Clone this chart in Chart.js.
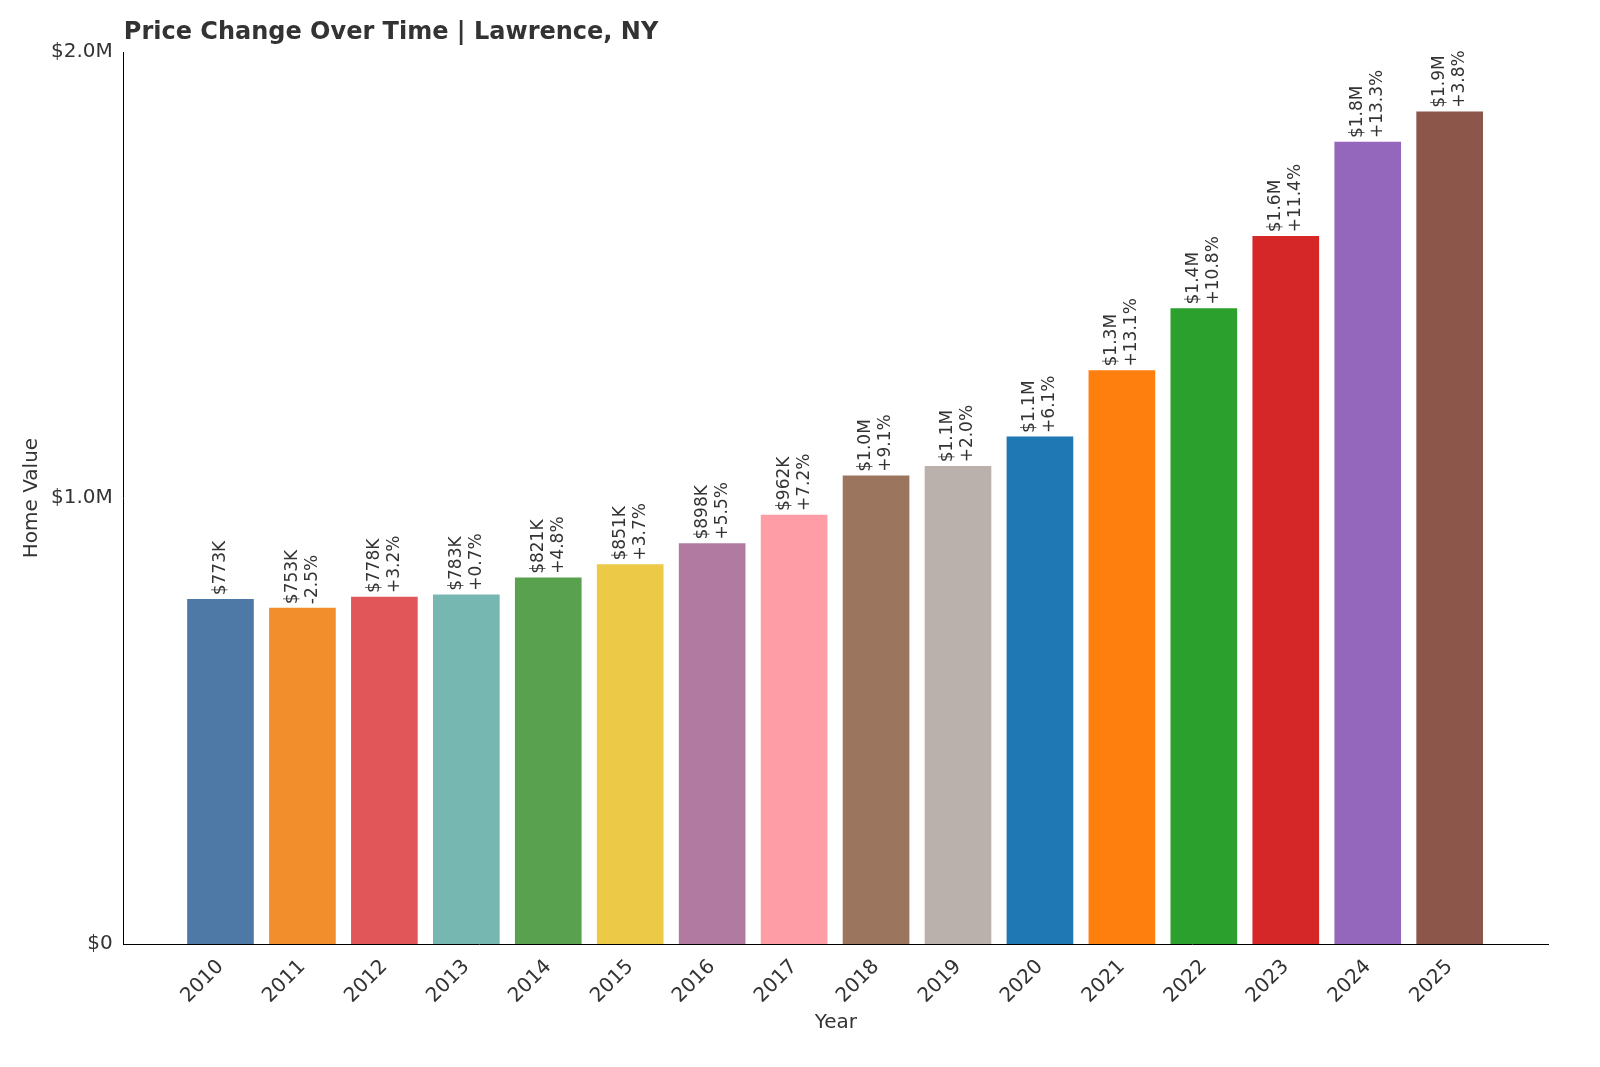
<!DOCTYPE html>
<html><head><meta charset="utf-8">
<script src="https://cdn.jsdelivr.net/npm/chart.js@4"></script>
<style>html,body{margin:0;padding:0;background:#fff}#w{width:1600px;height:1067px}</style>
</head><body><div id="w"><canvas id="c"></canvas></div>
<script>
const years=[2010,2011,2012,2013,2014,2015,2016,2017,2018,2019,2020,2021,2022,2023,2024,2025];
const values=[773000,753000,778000,783000,821000,851000,898000,962000,1050000,1071000,1137000,1286000,1425000,1587000,1798000,1866000];
const valueLabels=["$773K","$753K","$778K","$783K","$821K","$851K","$898K","$962K","$1.0M","$1.1M","$1.1M","$1.3M","$1.4M","$1.6M","$1.8M","$1.9M"];
const changeLabels=["","-2.5%","+3.2%","+0.7%","+4.8%","+3.7%","+5.5%","+7.2%","+9.1%","+2.0%","+6.1%","+13.1%","+10.8%","+11.4%","+13.3%","+3.8%"];
const colors=["#4e79a7","#f28e2b","#e15759","#76b7b2","#59a14f","#edc948","#b07aa1","#ff9da7","#9c755f","#bab0ac","#1f77b4","#ff7f0e","#2ca02c","#d62728","#9467bd","#8c564b"];
const yTicks={0:"$0",1000000:"$1.0M",2000000:"$2.0M"};
const TITLE='Price Change Over Time | Lawrence, NY';
const F="'DejaVu Sans', sans-serif";
const labelPlugin={id:'lbl',afterDatasetsDraw(ch){
 const ctx=ch.ctx,meta=ch.getDatasetMeta(0);
 ctx.save();ctx.fillStyle='#333';ctx.font='bold 24px '+F;ctx.textBaseline='alphabetic';ctx.textAlign='left';
 ctx.fillText(TITLE,ch.chartArea.left,39);
 ctx.font='17px '+F;ctx.textBaseline='middle';
 meta.data.forEach((b,i)=>{
  const two=changeLabels[i]!=="";
  ctx.save();ctx.translate(b.x,b.y-4);ctx.rotate(-Math.PI/2);
  if(two){ctx.fillText(valueLabels[i],0,-10);ctx.fillText(changeLabels[i],0,10);}
  else ctx.fillText(valueLabels[i],0,0);
  ctx.restore();
 });
 ctx.restore();
}};
new Chart(document.getElementById('c'),{type:'bar',
 data:{datasets:[{data:years.map((y,i)=>({x:y,y:values[i]})),backgroundColor:colors,barThickness:66}]},
 options:{responsive:true,maintainAspectRatio:false,animation:false,
  layout:{padding:{left:16,right:52,top:52,bottom:28}},
  plugins:{legend:{display:false},tooltip:{enabled:false},title:{display:false}},
  scales:{
   x:{type:'linear',offset:false,min:2008.82,max:2026.2,grid:{display:false,drawTicks:true},border:{color:'#000'},
    afterBuildTicks(s){s.ticks=years.map(v=>({value:v}));},
    ticks:{color:'#333',font:{family:F,size:20},maxRotation:45,minRotation:45,callback:v=>String(v)},
    title:{display:true,text:'Year',color:'#333',font:{family:F,size:20},padding:{top:0}}},
   y:{min:0,max:2000000,grid:{display:false},border:{color:'#000'},
    afterBuildTicks(s){s.ticks=[0,1000000,2000000].map(v=>({value:v}));},
    ticks:{color:'#333',font:{family:F,size:20},callback:v=>yTicks[v]},
    title:{display:true,text:'Home Value',color:'#333',font:{family:F,size:20}}}
  }},plugins:[labelPlugin]});
</script></body></html>
